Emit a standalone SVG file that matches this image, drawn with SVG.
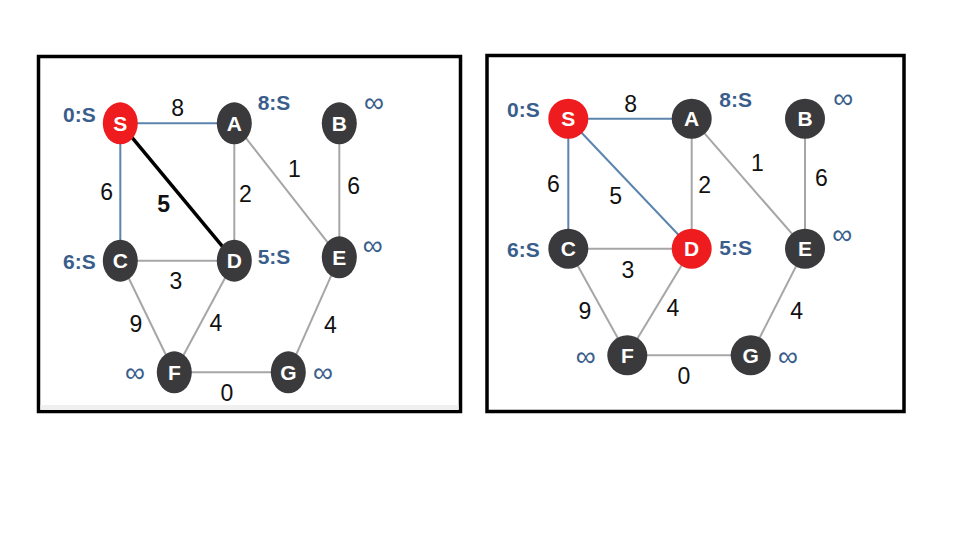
<svg xmlns="http://www.w3.org/2000/svg" width="960" height="540" viewBox="0 0 960 540">
<style>
.frame{fill:#ffffff;stroke:#000000;stroke-width:3.5}
.e{stroke:#a6a6a6;stroke-width:2;fill:none}
.eb{stroke:#5b84ae;stroke-width:2;fill:none}
.ek{stroke:#000000;stroke-width:3.5;fill:none}
.n{fill:#3a3a3c}
.r{fill:#ee1c1f}
.nl{font-family:"Liberation Sans",Arial,sans-serif;font-weight:bold;font-size:21px;fill:#ffffff;text-anchor:middle}
.dl{font-family:"Liberation Sans",Arial,sans-serif;font-weight:bold;font-size:21px;fill:#3a5e8c;text-anchor:middle}
.inf{font-family:"Liberation Sans",Arial,sans-serif;font-size:28px;fill:#3a5e8c;text-anchor:middle}
.w{font-family:"Liberation Sans",Arial,sans-serif;font-size:23px;fill:#111111;text-anchor:middle}
.wb{font-family:"Liberation Sans",Arial,sans-serif;font-size:23px;font-weight:bold;fill:#111111;text-anchor:middle}
</style>
<rect width="960" height="540" fill="#ffffff"/>

<!-- Left panel -->
<g id="left-panel">
<rect class="frame" x="38.5" y="56.5" width="422" height="355"/>
<rect x="40.5" y="405" width="418" height="5" fill="#efefef"/>
<g id="left-connectors">
<line class="eb" x1="120.3" y1="123.3" x2="234.3" y2="123.3"/>
<line class="eb" x1="120.3" y1="123.3" x2="120.3" y2="260.7"/>
<line class="e" x1="234.3" y1="123.3" x2="234.3" y2="260.7"/>
<line class="e" x1="234.3" y1="123.3" x2="339.3" y2="257.3"/>
<line class="e" x1="339.3" y1="123.3" x2="339.3" y2="257.3"/>
<line class="e" x1="120.3" y1="260.7" x2="234.3" y2="260.7"/>
<line class="e" x1="120.3" y1="260.7" x2="174.3" y2="372.3"/>
<line class="e" x1="234.3" y1="260.7" x2="174.3" y2="372.3"/>
<line class="e" x1="339.3" y1="257.3" x2="288.3" y2="372.3"/>
<line class="e" x1="174.3" y1="372.3" x2="288.3" y2="372.3"/>
<line class="ek" x1="120.3" y1="123.3" x2="234.3" y2="260.7"/>
</g>
<g id="left-weights">
<text class="w" x="177.7" y="116">8</text>
<text class="w" x="106.7" y="200">6</text>
<text class="wb" x="163.7" y="212">5</text>
<text class="w" x="245.3" y="202">2</text>
<text class="w" x="294.3" y="177">1</text>
<text class="w" x="353.7" y="194">6</text>
<text class="w" x="176" y="289">3</text>
<text class="w" x="136" y="332">9</text>
<text class="w" x="216" y="331">4</text>
<text class="w" x="330.3" y="333">4</text>
<text class="w" x="227" y="401">0</text>
</g>
<g id="left-S"><ellipse class="r" cx="120.3" cy="123.3" rx="17.5" ry="21"/><text class="nl" x="120.3" y="130.8">S</text><text class="dl" x="79.3" y="121.5">0:S</text></g>
<g id="left-A"><ellipse class="n" cx="234.3" cy="123.3" rx="17.5" ry="21"/><text class="nl" x="234.3" y="130.8">A</text><text class="dl" x="274" y="109.5">8:S</text></g>
<g id="left-B"><ellipse class="n" cx="339.3" cy="123.3" rx="17.5" ry="21"/><text class="nl" x="339.3" y="130.8">B</text><text class="inf" x="374" y="112">∞</text></g>
<g id="left-C"><ellipse class="n" cx="120.3" cy="260.7" rx="17.5" ry="21"/><text class="nl" x="120.3" y="268.2">C</text><text class="dl" x="79.3" y="268.5">6:S</text></g>
<g id="left-D"><ellipse class="n" cx="234.3" cy="260.7" rx="17.5" ry="21"/><text class="nl" x="234.3" y="268.2">D</text><text class="dl" x="274" y="263.5">5:S</text></g>
<g id="left-E"><ellipse class="n" cx="339.3" cy="257.3" rx="17.5" ry="21"/><text class="nl" x="339.3" y="264.8">E</text><text class="inf" x="372.7" y="254.5">∞</text></g>
<g id="left-F"><ellipse class="n" cx="174.3" cy="372.3" rx="17.5" ry="21"/><text class="nl" x="174.3" y="379.8">F</text><text class="inf" x="135" y="382">∞</text></g>
<g id="left-G"><ellipse class="n" cx="288.3" cy="372.3" rx="17.5" ry="21"/><text class="nl" x="288.3" y="379.8">G</text><text class="inf" x="323" y="382">∞</text></g>
</g>

<!-- Right panel -->
<g id="right-panel">
<rect class="frame" x="487" y="55.5" width="417" height="356"/>
<g id="right-connectors">
<line class="eb" x1="568.3" y1="118.7" x2="691.7" y2="118.7"/>
<line class="eb" x1="568.3" y1="118.7" x2="568.3" y2="248.7"/>
<line class="eb" x1="568.3" y1="118.7" x2="691.7" y2="248.7"/>
<line class="e" x1="691.7" y1="118.7" x2="691.7" y2="248.7"/>
<line class="e" x1="691.7" y1="118.7" x2="805" y2="248.7"/>
<line class="e" x1="805" y1="118.7" x2="805" y2="248.7"/>
<line class="e" x1="568.3" y1="248.7" x2="691.7" y2="248.7"/>
<line class="e" x1="568.3" y1="248.7" x2="627.3" y2="355.3"/>
<line class="e" x1="691.7" y1="248.7" x2="627.3" y2="355.3"/>
<line class="e" x1="805" y1="248.7" x2="750.7" y2="355.3"/>
<line class="e" x1="627.3" y1="355.3" x2="750.7" y2="355.3"/>
</g>
<g id="right-weights">
<text class="w" x="630.7" y="112">8</text>
<text class="w" x="553.3" y="192">6</text>
<text class="w" x="615.7" y="204">5</text>
<text class="w" x="704.7" y="193">2</text>
<text class="w" x="757.3" y="171">1</text>
<text class="w" x="821.3" y="186">6</text>
<text class="w" x="628" y="277.5">3</text>
<text class="w" x="585" y="318.5">9</text>
<text class="w" x="673" y="316">4</text>
<text class="w" x="796.7" y="318.5">4</text>
<text class="w" x="684" y="384">0</text>
</g>
<g id="right-S"><circle class="r" cx="568.3" cy="118.7" r="20"/><text class="nl" x="568.3" y="126.2">S</text><text class="dl" x="523.3" y="116.5">0:S</text></g>
<g id="right-A"><circle class="n" cx="691.7" cy="118.7" r="20"/><text class="nl" x="691.7" y="126.2">A</text><text class="dl" x="735.7" y="106.5">8:S</text></g>
<g id="right-B"><circle class="n" cx="805" cy="118.7" r="20"/><text class="nl" x="805" y="126.2">B</text><text class="inf" x="843.3" y="107.5">∞</text></g>
<g id="right-C"><circle class="n" cx="568.3" cy="248.7" r="20"/><text class="nl" x="568.3" y="256.2">C</text><text class="dl" x="523.3" y="256.5">6:S</text></g>
<g id="right-D"><circle class="r" cx="691.7" cy="248.7" r="20"/><text class="nl" x="691.7" y="256.2">D</text><text class="dl" x="735.7" y="255">5:S</text></g>
<g id="right-E"><circle class="n" cx="805" cy="248.7" r="20"/><text class="nl" x="805" y="256.2">E</text><text class="inf" x="842.3" y="243.5">∞</text></g>
<g id="right-F"><circle class="n" cx="627.3" cy="355.3" r="20"/><text class="nl" x="627.3" y="362.8">F</text><text class="inf" x="585.7" y="366">∞</text></g>
<g id="right-G"><circle class="n" cx="750.7" cy="355.3" r="20"/><text class="nl" x="750.7" y="362.8">G</text><text class="inf" x="788" y="366">∞</text></g>
</g>
</svg>
